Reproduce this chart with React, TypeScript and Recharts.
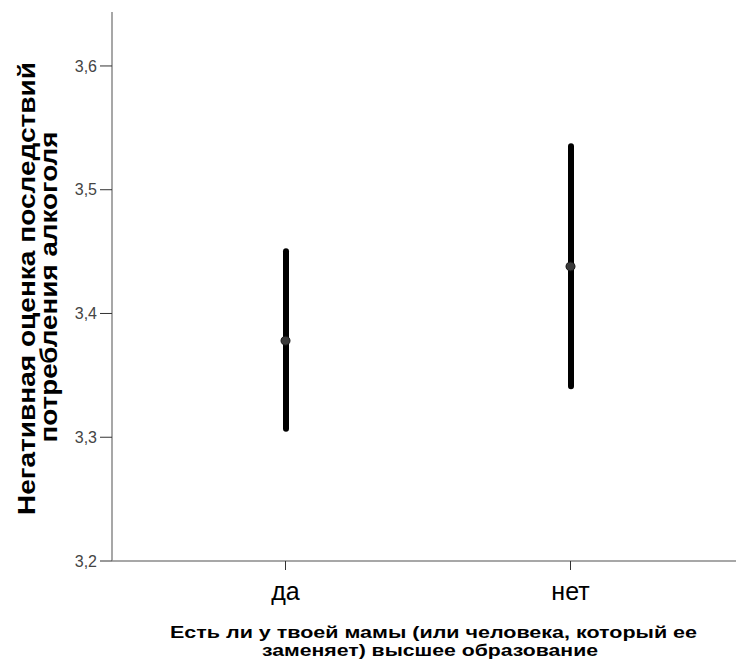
import React from 'react';
import { ComposedChart, Bar, Line, XAxis, YAxis, Label } from 'recharts';

// Error bar chart: mean with 95% CI per group
const categories = ['да', 'нет'];
const means = [3.378, 3.438];
const lows = [3.3045, 3.3387];
const highs = [3.4527, 3.5375];
const yTicks = [3.2, 3.3, 3.4, 3.5, 3.6];

const yTitle = ['Негативная оценка последствий', 'потребления алкоголя'];
const xTitle = ['Есть ли у твоей мамы (или человека, который ее', 'заменяет) высшее образование'];

const data = categories.map((cat, i) => ({
  cat,
  mean: means[i],
  range: [lows[i], highs[i]],
}));

const FONT = '"Liberation Sans", Arial, sans-serif';

function YTitle() {
  const lines = [
    { x: 35, cy: 288.5, len: 453 },
    { x: 57, cy: 287, len: 311 },
  ];
  return (
    <g>
      {yTitle.map((line, i) => (
        <text
          key={i}
          x={lines[i].x}
          y={lines[i].cy}
          transform={`rotate(-90, ${lines[i].x}, ${lines[i].cy})`}
          textAnchor="middle"
          fontSize={23}
          fontWeight="bold"
          fill="#000"
          fontFamily={FONT}
          textLength={lines[i].len}
          lengthAdjust="spacingAndGlyphs"
        >
          {line}
        </text>
      ))}
    </g>
  );
}

function XTitle() {
  const lines = [
    { cx: 433.5, y: 638, len: 527 },
    { cx: 430, y: 656, len: 336 },
  ];
  return (
    <g>
      {xTitle.map((line, i) => (
        <text
          key={i}
          x={lines[i].cx}
          y={lines[i].y}
          textAnchor="middle"
          fontSize={16.5}
          fontWeight="bold"
          fill="#000"
          fontFamily={FONT}
          textLength={lines[i].len}
          lengthAdjust="spacingAndGlyphs"
        >
          {line}
        </text>
      ))}
    </g>
  );
}

function MeanDot(props: any) {
  const { cx, cy } = props;
  if (cx == null || cy == null) return null;
  return <circle cx={cx} cy={cy} r={4.5} fill="#3a3a3a" stroke="#111" strokeWidth={1} />;
}

export default function App() {
  return (
    <div style={{ width: 736, height: 661, background: '#fff', fontFamily: FONT }}>
      <style>{`body{margin:0;}`}</style>
      <ComposedChart
        width={736}
        height={661}
        data={data}
        margin={{ top: 12, right: 0, bottom: 0, left: 0 }}
      >
        <XAxis
          dataKey="cat"
          height={100}
          padding={{ left: 31, right: 23 }}
          axisLine={{ stroke: '#8a8a8a', strokeWidth: 1.5 }}
          tickLine={{ stroke: '#333' }}
          tickSize={9}
          tickMargin={12}
          tick={{ fontSize: 25, fill: '#000', fontFamily: FONT }}
        >
          <Label content={<XTitle />} />
        </XAxis>
        <YAxis
          type="number"
          domain={[3.2, 3.6436]}
          ticks={yTicks}
          allowDataOverflow
          width={112}
          axisLine={{ stroke: '#8a8a8a', strokeWidth: 1.5 }}
          tickLine={{ stroke: '#333' }}
          tickSize={12}
          tickMargin={3}
          tick={{ fontSize: 16, fill: '#444', fontFamily: FONT }}
          tickFormatter={(v: number) => v.toFixed(1).replace('.', ',')}
        >
          <Label content={<YTitle />} />
        </YAxis>
        <Bar dataKey="range" barSize={6} fill="#000" radius={3} isAnimationActive={false} />
        <Line
          dataKey="mean"
          stroke="none"
          dot={<MeanDot />}
          activeDot={false}
          isAnimationActive={false}
        />
      </ComposedChart>
    </div>
  );
}
